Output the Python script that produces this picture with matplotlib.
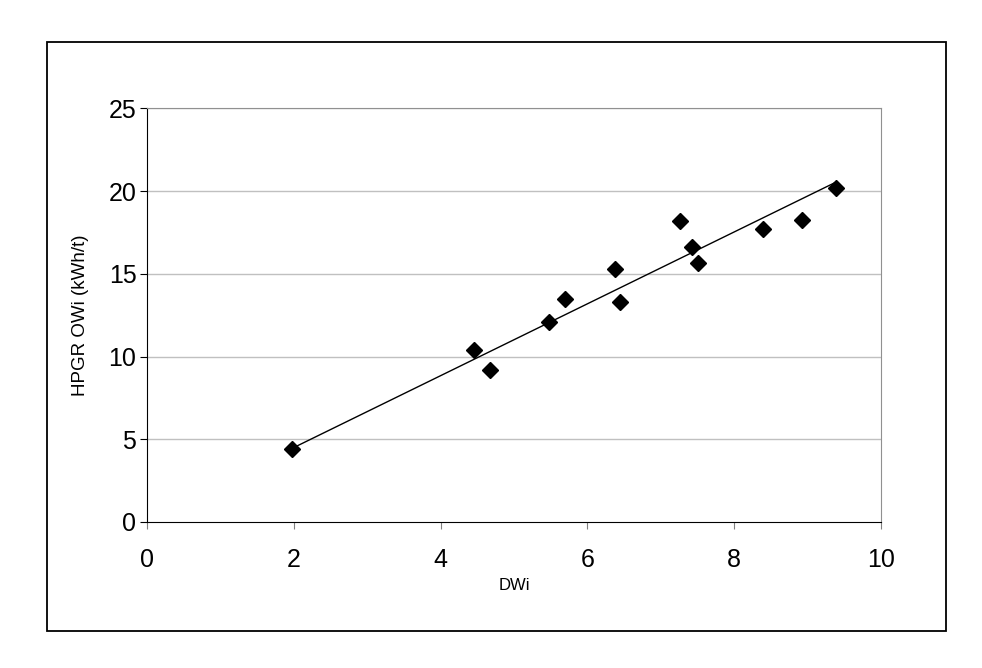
import matplotlib.pyplot as plt
import numpy as np
from matplotlib.patches import Rectangle

plt.rcParams['font.family'] = ['Liberation Sans', 'DejaVu Sans']

# DWi vs HPGR operating work index
dwi = [1.97, 4.45, 4.67, 5.48, 5.70, 6.37, 6.44, 7.26, 7.42, 7.51, 8.40, 8.93, 9.39]
owi = [4.44, 10.39, 9.18, 12.09, 13.46, 15.27, 13.30, 18.18, 16.65, 15.68, 17.69, 18.26, 20.18]
# linear trendline as shown on the chart
trend_slope = 2.17
trend_intercept = 0.17
x_ticks = [0, 2, 4, 6, 8, 10]
y_ticks = [0, 5, 10, 15, 20, 25]

fig = plt.figure(figsize=(9.82, 6.68), dpi=100)
ax = fig.add_axes([0.1502, 0.2186, 0.7466, 0.619])

# outer chart frame
fig.patches.append(Rectangle((46.5 / 982, 1 - 631 / 668), 900 / 982, 589 / 668,
                             transform=fig.transFigure, fill=False,
                             edgecolor='black', linewidth=1.3))

for y in y_ticks[1:]:
    ax.axhline(y, color='#c0c0c0', linewidth=1, zorder=0)

xs = np.array([min(dwi), max(dwi)])
ax.plot(xs, trend_slope * xs + trend_intercept, color='black', linewidth=1, zorder=2)

ax.plot(dwi, owi, linestyle='none', marker='D', markersize=8,
        color='black', zorder=3)

ax.set_xlim(0, 10)
ax.set_ylim(0, 25)
ax.set_xticks(x_ticks)
ax.set_yticks(y_ticks)
ax.tick_params(labelsize=18, length=5, direction='out', color='black')
ax.tick_params(axis='x', colors='#808080', labelcolor='black', pad=14)
ax.tick_params(axis='y', pad=3)

ax.spines['top'].set_color('#909090')
ax.spines['right'].set_color('#909090')
ax.spines['left'].set_color('black')
ax.spines['bottom'].set_color('black')

ax.set_xlabel('DWi', fontsize=12, labelpad=4)
ax.set_ylabel('HPGR OWi (kWh/t)', fontsize=13.5, labelpad=14)

fig.savefig('out.png', dpi=100)
